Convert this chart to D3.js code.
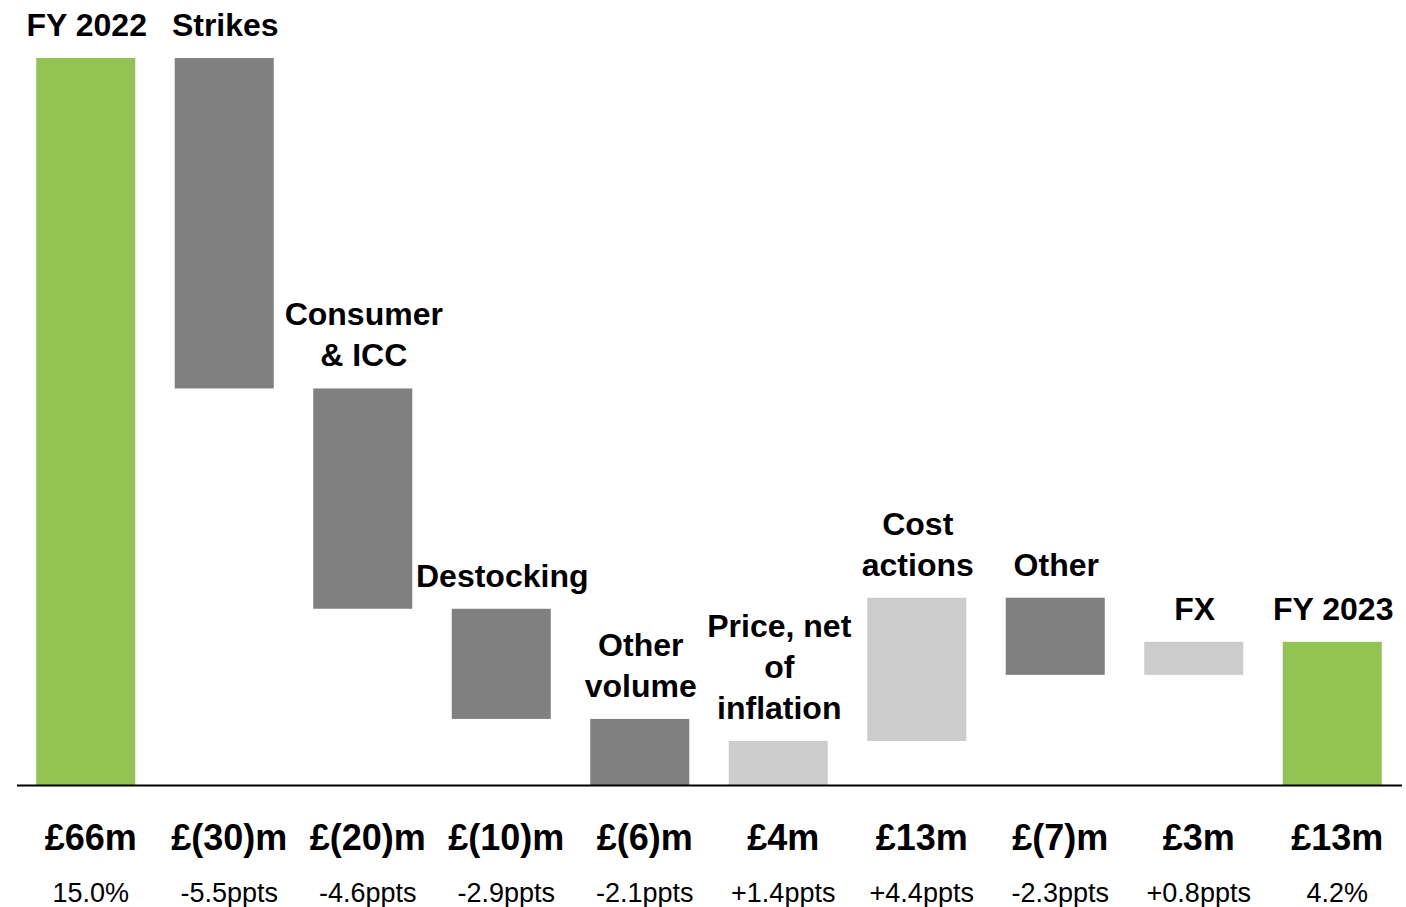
<!DOCTYPE html>
<html>
<head>
<meta charset="utf-8">
<script src="https://cdn.jsdelivr.net/npm/d3@7"></script>
<style>
  html, body { margin: 0; padding: 0; background: #fff; overflow: hidden; }
  svg { display: block; font-family: Arial, "Liberation Sans", sans-serif; }
</style>
</head>
<body>
<svg id="chart"></svg>
<script>
var width = 1406;
var height = 907;

// data
var categories = ["FY 2022", "Strikes", "Consumer\n& ICC", "Destocking", "Other\nvolume",
    "Price, net\nof\ninflation", "Cost\nactions", "Other", "FX", "FY 2023"];
var values = [66, -30, -20, -10, -6, 4, 13, -7, 3, 13];
var kinds = ["total", "delta", "delta", "delta", "delta", "delta", "delta", "delta", "delta", "total"];
var valueLabels = ["£66m", "£(30)m", "£(20)m", "£(10)m", "£(6)m", "£4m", "£13m", "£(7)m", "£3m", "£13m"];
var marginLabels = ["15.0%", "-5.5ppts", "-4.6ppts", "-2.9ppts", "-2.1ppts", "+1.4ppts", "+4.4ppts", "-2.3ppts", "+0.8ppts", "4.2%"];

var colors = {total: "#92c353", down: "#808080", up: "#cccccc"};

// running totals for the waterfall
var running = 0;
var bars = categories.map(function(c, i){
    var start, end;
    if(kinds[i] === "total"){
        start = 0;
        end = values[i];
        running = values[i];
    }else{
        start = running;
        end = running + values[i];
        running = end;
    }
    var col = kinds[i] === "total" ? colors.total : (values[i] < 0 ? colors.down : colors.up);
    return {name: c, start: start, end: end, color: col, value: valueLabels[i], margin: marginLabels[i]};
});

var x = d3.scaleBand()
    .domain(categories)
    .range([16.5, 1401.5])
    .paddingInner(0.285)
    .paddingOuter(0.1425);

var y = d3.scaleLinear()
    .domain([0, 66])
    .range([785, 58]);

const svg = d3.select("#chart")
    .attr("width", width)
    .attr("height", height);

// bars
svg.append("g")
    .selectAll("rect")
    .data(bars)
    .join("rect")
    .attr("x", d => x(d.name))
    .attr("width", x.bandwidth())
    .attr("y", d => y(Math.max(d.start, d.end)))
    .attr("height", d => Math.abs(y(d.start) - y(d.end)))
    .attr("fill", d => d.color);

// baseline
svg.append("line")
    .attr("x1", 17)
    .attr("x2", 1402)
    .attr("y1", y(0) + 0.5)
    .attr("y2", y(0) + 0.5)
    .attr("stroke", "#000")
    .attr("stroke-width", 2);

// category labels above each bar, last line sits just over the bar top
var lineH = 41;
svg.append("g")
    .selectAll("text")
    .data(bars)
    .join("text")
    .attr("text-anchor", "middle")
    .attr("font-weight", "bold")
    .attr("font-size", 32)
    .attr("fill", "#000")
    .each(function(d){
        var lines = d.name.split("\n");
        var cx = x(d.name) + x.bandwidth() / 2 + 1;
        var baseY = y(Math.max(d.start, d.end)) - 22;
        d3.select(this).selectAll("tspan")
            .data(lines)
            .join("tspan")
            .attr("x", cx)
            .attr("y", (l, i) => baseY - (lines.length - 1 - i) * lineH)
            .text(l => l);
    });

// £ values under the axis
svg.append("g")
    .selectAll("text")
    .data(bars)
    .join("text")
    .attr("x", d => x(d.name) + x.bandwidth() / 2 + 5)
    .attr("y", 850)
    .attr("text-anchor", "middle")
    .attr("font-weight", "bold")
    .attr("font-size", 36)
    .text(d => d.value);

// margin / ppts row
svg.append("g")
    .selectAll("text")
    .data(bars)
    .join("text")
    .attr("x", d => x(d.name) + x.bandwidth() / 2 + 5)
    .attr("y", 902)
    .attr("text-anchor", "middle")
    .attr("font-size", 27)
    .text(d => d.margin);
</script>
</body>
</html>
